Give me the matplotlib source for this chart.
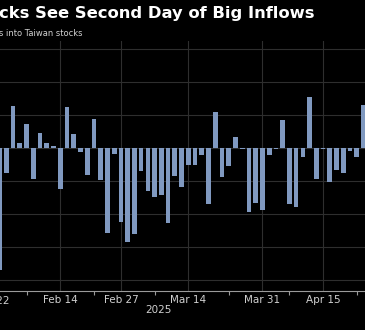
import numpy as np
import matplotlib
matplotlib.use("Agg")
import matplotlib.pyplot as plt
import matplotlib.transforms as mtransforms

# daily net foreign flows (gridline units), trading days from Feb 3
flows = [-3.70, -0.75, 1.28, 0.16, 0.72, -0.94, 0.46, 0.14, 0.06, -1.23,
         1.23, 0.42, -0.13, -0.83, 0.88, -0.97, -2.56, -0.18, -2.24, -2.84,
         -2.61, -0.69, -1.29, -1.47, -1.43, -2.28, -0.85, -1.17, -0.52, -0.52,
         -0.22, -1.70, 1.09, -0.87, -0.55, 0.32, -0.02, -1.95, -1.68, -1.88,
         -0.22, -0.03, 0.85, -1.71, -1.78, -0.28, 1.53, -0.93, -0.02, -1.04,
         -0.68, -0.75, -0.09, -0.26, 1.31]
days = np.arange(len(flows))

tick_pos = [-1, 9, 18, 28, 39, 48]
tick_labels = ["Jan 22", "Feb 14", "Feb 27", "Mar 14", "Mar 31", "Apr 15"]
minor_pos = [4, 14, 23, 34, 43, 53]

bg = "black"
bar_col = "#8099c0"
grid_col = "#2e2e2e"
txt_col = "#d0d0d0"

fig = plt.figure(figsize=(3.65, 3.3), dpi=100, facecolor=bg)
ax = fig.add_axes([0, 0.118, 1, 0.758], facecolor=bg)

ax.bar(days, flows, width=0.7, color=bar_col, zorder=3)

ax.set_yticks(range(-4, 4))
ax.set_yticklabels([])
ax.tick_params(axis="y", length=0)
ax.set_xticks(tick_pos)
ax.set_xticklabels(tick_labels, color=txt_col, fontsize=7.5)
ax.set_xticks(minor_pos, minor=True)
ax.tick_params(axis="x", which="major", length=0, pad=3)
ax.tick_params(axis="x", which="minor", length=3, color="#9a9a9a", width=0.8)
ax.grid(True, color=grid_col, linewidth=0.8, zorder=0)

# limits after ticks, so the Jan 22 tick doesn't widen the view
ax.set_xlim(0.06, 54.22)
ax.set_ylim(-4.33, 3.24)

# first label sits left of the view, matplotlib would drop it
trans = mtransforms.blended_transform_factory(ax.transData, ax.transAxes)
ax.text(tick_pos[0] + 0.2, -0.021, tick_labels[0], transform=trans, color=txt_col,
        fontsize=7.5, ha="center", va="top", clip_on=False)

for s in ["top", "right", "left"]:
    ax.spines[s].set_visible(False)
ax.spines["bottom"].set_color("#9a9a9a")
ax.spines["bottom"].set_linewidth(0.8)

fig.text(158 / 365, 1 - 310 / 330, "2025", color=txt_col, fontsize=7.5,
         ha="center", va="center")
fig.text(-1 / 365, 1 - 18 / 330, "cks See Second Day of Big Inflows",
         color="white", fontsize=11.8, fontweight="bold", ha="left", va="baseline")
fig.text(-1 / 365, 1 - 33 / 330, "s into Taiwan stocks", color=txt_col,
         fontsize=6, ha="left", va="center")

fig.savefig("out.png", dpi=100, facecolor=bg)
